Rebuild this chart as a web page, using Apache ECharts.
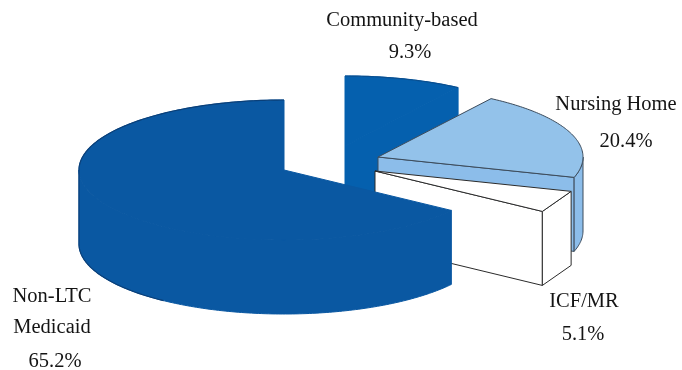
<!DOCTYPE html>
<html>
<head>
<meta charset="utf-8">
<style>html,body{margin:0;padding:0;background:#fff}#chart{width:682px;height:370px}</style>
<script src="https://cdn.jsdelivr.net/npm/echarts@6/dist/echarts.min.js"></script>
</head>
<body>
<div id="chart"></div>
<script>
// Spending shares, clockwise from twelve o'clock
const categories = ['Community-based', 'Nursing Home', 'ICF/MR', 'Non-LTC\nMedicaid'];
const shares = [9.3, 20.4, 5.1, 65.2];

// Drawing style per slice
const topColors = ['#0560ae', '#93c2ea', '#ffffff', '#0a58a2'];
const sideColors = ['#0560ae', '#8cbdea', '#ffffff', '#0a58a2'];
const strokeColors = ['#0560ae', '#3d4c5c', '#2b2b2b', '#0a58a2'];
const backEdgeColors = ['#0a4f90', null, null, '#0a3f78'];
// The small white wedge reads as flat panels rather than a curved rim
const flatRim = [false, false, true, false];
// Wedge tip of each exploded slice
const tips = [[345, 146], [378, 157], [375, 171], [284, 170]];
// Label positions: centre x and y of the name, centre x and y of the percentage
const nameAnchors = [[402, 21], [616, 105], [584, 302], [52, 297]];
const percentAnchors = [[410, 53], [626, 142], [583, 335], [55, 362]];
const NAME_LINE_GAP = 31;

const RX = 205, RY = 70, DEPTH = 74;
const total = shares.reduce((a, b) => a + b, 0);

function renderSlice(params, api) {
  const i = params.dataIndex;
  const value = api.value(0);
  let before = 0;
  for (let k = 0; k < i; k++) before += shares[k];
  const a0 = before / total * 2 * Math.PI;
  const a1 = (before + value) / total * 2 * Math.PI;
  const [cx, cy] = tips[i];
  const rim = (a, dy = 0) => [cx + RX * Math.sin(a), cy - RY * Math.cos(a) + dy];
  const arc = (from, to, dy = 0) => {
    const n = flatRim[i] ? 1 : Math.max(2, Math.ceil(Math.abs(to - from) * 60));
    const pts = [];
    for (let k = 0; k <= n; k++) pts.push(rim(from + (to - from) * k / n, dy));
    return pts;
  };
  const children = [];
  const poly = (points, fill) => children.push({
    type: 'polygon',
    shape: { points },
    style: { fill, stroke: strokeColors[i], lineWidth: 1, lineJoin: 'round' }
  });
  const edge = (points) => children.push({
    type: 'polyline',
    shape: { points },
    style: { fill: null, stroke: backEdgeColors[i], lineWidth: 1.2 }
  });

  // Cut faces that turn toward the viewer
  if (Math.sin(a0) < -1e-6) {
    const p = rim(a0);
    poly([[cx, cy], p, [p[0], p[1] + DEPTH], [cx, cy + DEPTH]], sideColors[i]);
  }
  if (Math.sin(a1) > 1e-6) {
    const p = rim(a1);
    poly([[cx, cy], p, [p[0], p[1] + DEPTH], [cx, cy + DEPTH]], sideColors[i]);
  }
  // Outer wall: only the front half of the rim is visible
  const from = Math.max(a0, Math.PI / 2), to = Math.min(a1, 1.5 * Math.PI);
  if (to > from) {
    poly(arc(from, to).concat(arc(to, from, DEPTH)), sideColors[i]);
  }
  // Top face
  poly([[cx, cy]].concat(arc(a0, a1)), topColors[i]);

  // Darker outline on the blue slices: far rim, and for the large slice the left silhouette
  if (backEdgeColors[i]) {
    const farFrom = Math.max(a0, a0 > Math.PI ? a0 : (a1 > 1.5 * Math.PI ? 1.5 * Math.PI : a0));
    edge(arc(farFrom, a1));
    if (to > 1.25 * Math.PI && a1 > 1.5 * Math.PI) {
      const left = rim(1.5 * Math.PI);
      edge([left, [left[0], left[1] + DEPTH]].concat(arc(1.5 * Math.PI, 1.2 * Math.PI, DEPTH)));
    }
  }

  // Labels
  const labelStyle = { font: '20.5px "Liberation Serif", serif', fill: '#141414', textAlign: 'center', textVerticalAlign: 'middle' };
  const [lx, ly] = nameAnchors[i];
  categories[i].split('\n').forEach((t, k) => children.push({
    type: 'text', style: { ...labelStyle, text: t, x: lx, y: ly + k * NAME_LINE_GAP }
  }));
  children.push({
    type: 'text',
    style: { ...labelStyle, text: value.toFixed(1) + '%', x: percentAnchors[i][0], y: percentAnchors[i][1] }
  });
  return { type: 'group', children };
}

const chart = echarts.init(document.getElementById('chart'), null, { renderer: 'canvas' });
chart.setOption({
  animation: false,
  backgroundColor: '#ffffff',
  series: [{
    type: 'custom',
    coordinateSystem: 'none',
    renderItem: renderSlice,
    data: shares.map(v => [v])
  }]
});
</script>
</body>
</html>
